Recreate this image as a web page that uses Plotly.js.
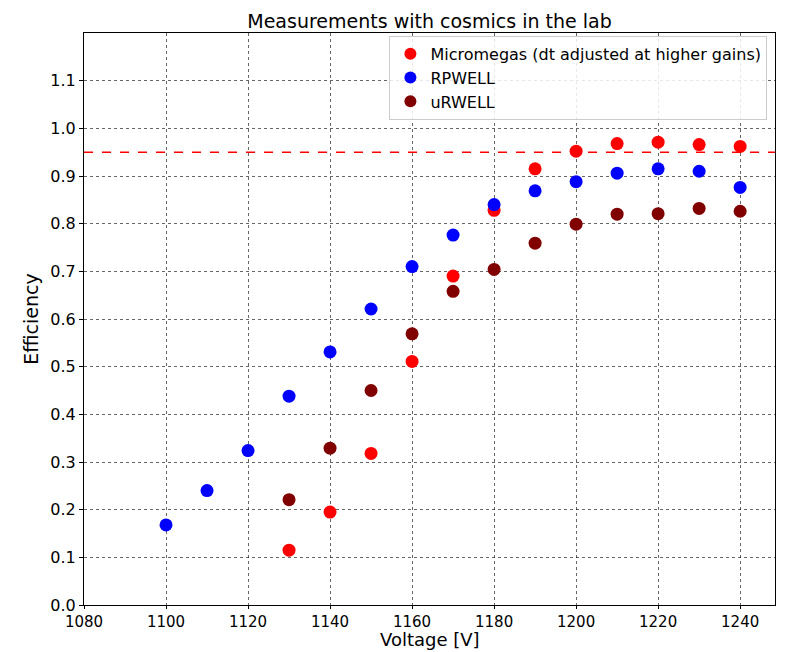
<!DOCTYPE html>
<html><head><meta charset="utf-8">
<script src="https://cdn.plot.ly/plotly-3.0.1.min.js"></script>
<style>html,body{margin:0;padding:0;background:#fff;}#chart{width:811px;height:652px;}</style>
</head><body><div id="chart"></div>
<script>
const mmX = [1130,1140,1150,1160,1170,1180,1190,1200,1210,1220,1230,1240];
const mmY = [0.115,0.195,0.318,0.511,0.690,0.828,0.915,0.952,0.968,0.971,0.966,0.962];
const rpX = [1100,1110,1120,1130,1140,1150,1160,1170,1180,1190,1200,1210,1220,1230,1240];
const rpY = [0.168,0.240,0.324,0.438,0.531,0.621,0.710,0.776,0.840,0.869,0.888,0.906,0.915,0.910,0.876];
const urX = [1130,1140,1150,1160,1170,1180,1190,1200,1210,1220,1230,1240];
const urY = [0.221,0.329,0.450,0.569,0.658,0.704,0.759,0.799,0.820,0.821,0.832,0.826];
const urErr = [0.006,0.006,0.006,0.006,0.006,0.008,0.008,0.008,0.010,0.008,0.010,0.010];
const threshold = 0.95;
const xTicks = [1080,1100,1120,1140,1160,1180,1200,1220,1240];
const yTicks = [0.0,0.1,0.2,0.3,0.4,0.5,0.6,0.7,0.8,0.9,1.0,1.1];

const mk = (c) => ({color:c, size:13});
const traces = [
  {x:mmX, y:mmY, mode:'markers', type:'scatter', name:'Micromegas (dt adjusted at higher gains)', marker:mk('#ff0000'),
   error_y:{type:'constant', value:0.004, color:'#ff0000', thickness:1.5, width:0}},
  {x:rpX, y:rpY, mode:'markers', type:'scatter', name:'RPWELL', marker:mk('#0000ff'),
   error_y:{type:'constant', value:0.004, color:'#0000ff', thickness:1.5, width:0}},
  {x:urX, y:urY, mode:'markers', type:'scatter', name:'uRWELL', marker:mk('#800000'),
   error_y:{type:'data', array:urErr, color:'#800000', thickness:1.5, width:0}}
];
const axBase = {showline:true, linecolor:'#000', linewidth:1, mirror:true, ticks:'outside', ticklen:4, tickcolor:'#000',
  showgrid:true, gridcolor:'#000', gridwidth:0.6, griddash:'dot', zeroline:false,
  tickfont:{family:'DejaVu Sans', size:16, color:'#000'}};
const layout = {
  width:811, height:652,
  margin:{l:84, r:36, t:33, b:47},
  paper_bgcolor:'#fff', plot_bgcolor:'#fff',
  title:{text:'Measurements with cosmics in the lab', font:{family:'DejaVu Sans', size:19, color:'#000'}, x:0.5, xref:'paper', y:0.968, yanchor:'middle'},
  xaxis:Object.assign({}, axBase, {range:[1080,1248.5], tickvals:xTicks, ticktext:xTicks.map(String), ticklen:3,
    tickfont:{family:'DejaVu Sans', size:15, color:'#000'}}),
  yaxis:Object.assign({}, axBase, {range:[0,1.2], tickvals:yTicks, ticktext:yTicks.map(v=>v.toFixed(1)),
    title:{text:'Efficiency', font:{family:'DejaVu Sans', size:19, color:'#000'}, standoff:6}}),
  annotations:[{text:'Voltage [V]', xref:'paper', yref:'paper', x:0.5, y:-0.0822, xanchor:'center', yanchor:'bottom', showarrow:false,
    font:{family:'DejaVu Sans', size:18, color:'#000'}}],
  showlegend:true,
  legend:{x:0.989, y:0.995, xanchor:'right', yanchor:'top', bgcolor:'rgba(255,255,255,0.85)', bordercolor:'#cccccc', borderwidth:1,
    font:{family:'DejaVu Sans', size:16, color:'#000'}, itemsizing:'constant', tracegroupgap:0},
  shapes:[{type:'line', xref:'paper', x0:0, x1:1, yref:'y', y0:threshold, y1:threshold, line:{color:'#ff0000', width:1.5, dash:'dash'}}]
};
Plotly.newPlot('chart', traces, layout, {displayModeBar:false, staticPlot:true});
</script></body></html>
